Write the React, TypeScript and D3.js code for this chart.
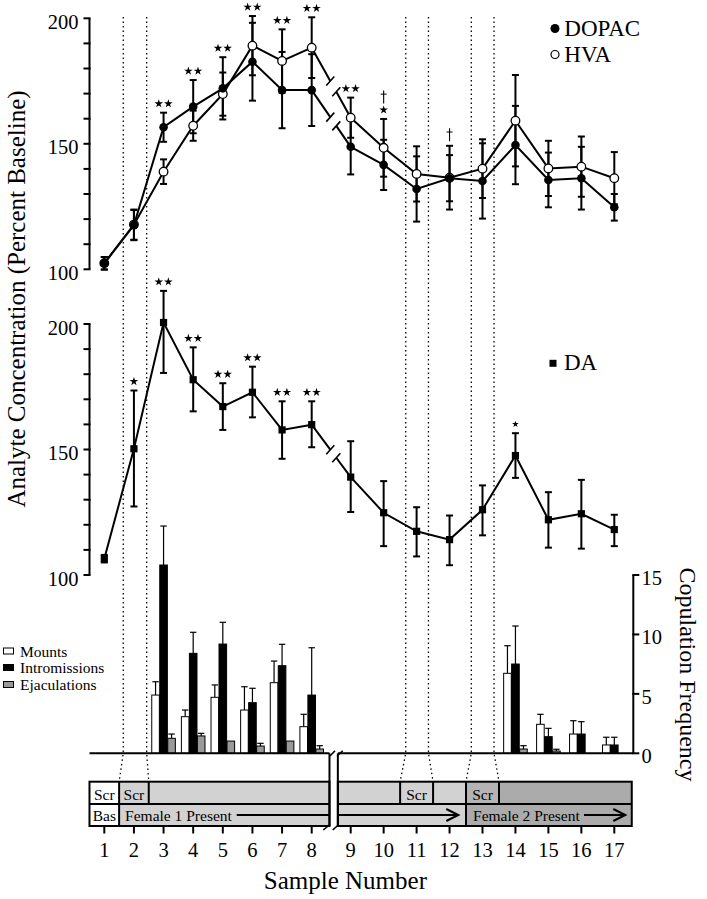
import React from "react";
import * as d3 from "d3";

// ---------- data ----------
const samples = d3.range(1, 18);
const dopac = [102.4, 117.6, 156.6, 164.8, 172.1, 182.7, 171.4, 171.4, 148.8, 141.6, 132.0, 136.3, 135.2, 149.5, 135.6, 136.3, 124.7];
const dopacErr = [2.5, 6.0, 5.8, 10.6, 12.4, 15.5, 15.2, 14.3, 11.0, 10.0, 13.0, 9.2, 15.0, 15.6, 10.9, 12.5, 5.3];
const hva = [102.4, 117.8, 138.9, 157.2, 169.8, 189.1, 183.0, 188.3, 160.4, 148.4, 138.0, 136.5, 140.1, 159.2, 140.2, 140.9, 136.3];
const hvaErr = [2.5, 6.0, 4.9, 6.0, 8.6, 11.8, 12.6, 12.1, 8.0, 11.5, 11.0, 12.7, 11.7, 18.2, 11.0, 12.0, 10.4];
const da = [106.5, 150.3, 200.6, 177.8, 167.1, 172.8, 157.8, 159.9, 139.0, 124.8, 117.4, 114.1, 126.0, 147.6, 122.0, 124.4, 118.1];
const daErrHi = [1.5, 23.2, 12.6, 12.9, 9.3, 10.2, 11.4, 9.3, 14.3, 12.6, 9.6, 9.6, 9.7, 8.9, 11.0, 13.5, 5.9];
const daErrLo = [1.5, 23.0, 20.1, 12.6, 9.3, 10.0, 11.5, 9.0, 13.9, 13.3, 10.0, 10.2, 10.2, 8.9, 11.1, 13.9, 6.6];

const mounts = [0, 0, 4.9, 3.08, 4.71, 3.64, 5.94, 2.24, 0, 0, 0, 0, 0, 6.73, 2.44, 1.62, 0.7];
const mountsErr = [0, 0, 1.12, 0.56, 1.04, 1.96, 1.82, 1.04, 0, 0, 0, 0, 0, 2.32, 0.84, 1.12, 0.65];
const intromissions = [0, 0, 15.84, 8.41, 9.19, 4.26, 7.37, 4.9, 0, 0, 0, 0, 0, 7.51, 1.4, 1.62, 0.7];
const intromissionsErr = [0, 0, 3.28, 1.77, 1.83, 1.21, 1.8, 3.98, 0, 0, 0, 0, 0, 3.2, 0.7, 1.04, 0.65];
const ejaculations = [0, 0, 1.26, 1.46, 1.03, 0.61, 1.03, 0.36, 0, 0, 0, 0, 0, 0.36, 0.19, 0, 0];
const ejaculationsErr = [0, 0, 0.36, 0.22, 0, 0.23, 0, 0.28, 0, 0, 0, 0, 0, 0.28, 0.15, 0, 0];

const topStars = [0, 0, 2, 2, 2, 2, 2, 2, 2, 1, 0, 0, 0, 0, 0, 0, 0];
const topDaggers = [0, 0, 0, 0, 0, 0, 0, 0, 0, 1, 0, 1, 0, 0, 0, 0, 0];
const daStars = [0, 1, 2, 2, 2, 2, 2, 2, 0, 0, 0, 0, 0, 1, 0, 0, 0];

const concTicks = d3.range(100, 201, 10);
const concLabels = [100, 150, 200];
const freqTicks = [0, 5, 10, 15];

// screening intervals (sample units): dotted markers and timeline cells
const screenStart = [1.64, 10.67, 12.66];
const screenEnd = [2.43, 11.36, 13.35];
const cellStart = [1.5, 10.5, 12.5];
const cellEnd = [2.5, 11.5, 13.5];
const scrCells = [1, 2, 11, 13];

// ---------- layout ----------
const W = 707;
const H = 899;
const SERIF = '"Liberation Serif", "Times New Roman", "DejaVu Serif", serif';
const BREAK = 8.6;
const xLeft = d3.scaleLinear().domain([1, 8]).range([104.3, 311.7]);
const xRight = d3.scaleLinear().domain([9, 17]).range([350.7, 614.3]);
const x = (s: number) => (s <= BREAK ? xLeft(s) : xRight(s));
const xBreakL = xLeft(BREAK);
const xBreakR = xRight(8.61);
const xEnd = xRight(17.53);
const xStart = xLeft(0.5);

const yTop = d3.scaleLinear().domain([100, 200]).range([269.3, 18.3]);
const yMid = d3.scaleLinear().domain([100, 200]).range([575, 324]);
const yBar = d3.scaleLinear().domain([0, 15]).range([753.3, 575]);

const AXIS_X = 89.5;
const RAXIS_X = 633.3;
const BOX_T = 781.7;
const BOX_M = 804;
const BOX_B = 826;

const lineGen = d3.line<[number, number]>().x((d) => d[0]).y((d) => d[1]);
const starPath = (size: number) => d3.symbol().type(d3.symbolStar).size(size)() as string;

function BrokenLine({ pts }: { pts: [number, number][] }) {
  const left = pts.slice(0, 8);
  const right = pts.slice(8);
  const p0 = pts[7];
  const p1 = pts[8];
  const f = (xx: number) => p0[1] + ((xx - p0[0]) / (p1[0] - p0[0])) * (p1[1] - p0[1]);
  const ga = 330.3;
  const gb = 336.3;
  const a: [number, number] = [ga, f(ga)];
  const b: [number, number] = [gb, f(gb)];
  return (
    <g fill="none" stroke="#000" strokeWidth={2}>
      <path d={lineGen(left) as string} />
      <path d={lineGen(right) as string} />
      <path d={lineGen([p0, a]) as string} />
      <path d={lineGen([b, p1]) as string} />
      {[a, b].map((p, i) => (
        <line key={i} x1={p[0] - 4} y1={p[1] + 4.5} x2={p[0] + 4} y2={p[1] - 4.5} strokeWidth={1.6} />
      ))}
    </g>
  );
}

function ErrBar({ cx, y1, y2, cap = 7, sw = 2 }: { cx: number; y1: number; y2: number; cap?: number; sw?: number }) {
  return (
    <g stroke="#000" strokeWidth={sw}>
      <line x1={cx} x2={cx} y1={y1} y2={y2} />
      <line x1={cx - cap / 2} x2={cx + cap / 2} y1={y1} y2={y1} />
      <line x1={cx - cap / 2} x2={cx + cap / 2} y1={y2} y2={y2} />
    </g>
  );
}

function Stars({ cx, cy, n, size }: { cx: number; cy: number; n: number; size: number }) {
  const d = starPath(size);
  const offs = n === 2 ? [-4.8, 4.8] : n === 1 ? [0] : [];
  return (
    <g>
      {offs.map((o, i) => (
        <path key={i} d={d} transform={`translate(${cx + o},${cy})`} fill="#000" />
      ))}
    </g>
  );
}

function Dagger({ cx, cy }: { cx: number; cy: number }) {
  // cy = vertical centre of the dagger glyph
  return (
    <g stroke="#000" fill="none">
      <line x1={cx} x2={cx} y1={cy - 6.5} y2={cy + 6.5} strokeWidth={1.1} />
      <line x1={cx - 3} x2={cx + 3} y1={cy - 2.8} y2={cy - 2.8} strokeWidth={1} />
    </g>
  );
}

function LeftAxis({ y }: { y: d3.ScaleLinear<number, number> }) {
  return (
    <g>
      <line x1={AXIS_X} x2={AXIS_X} y1={y(100)} y2={y(200)} stroke="#000" strokeWidth={2} />
      {concTicks.map((t) => (
        <line key={t} x1={AXIS_X - 6} x2={AXIS_X + 1} y1={y(t)} y2={y(t)} stroke="#000" strokeWidth={2} />
      ))}
      {concLabels.map((t) => (
        <text key={t} x={78.5} y={y(t) + 10.5} textAnchor="end" fontSize={20.5} fill="#000">
          {t}
        </text>
      ))}
    </g>
  );
}

export default function App() {
  const dopacPts = samples.map((s, i) => [x(s), yTop(dopac[i])] as [number, number]);
  const hvaPts = samples.map((s, i) => [x(s), yTop(hva[i])] as [number, number]);
  const daPts = samples.map((s, i) => [x(s), yMid(da[i])] as [number, number]);

  const barW = 7.6;
  const barSeries = [
    { vals: mounts, err: mountsErr, fill: "#fff", off: -8 },
    { vals: intromissions, err: intromissionsErr, fill: "#000", off: 0 },
    { vals: ejaculations, err: ejaculationsErr, fill: "#999", off: 8 },
  ];

  const arrowHead = (tx: number, ty: number) =>
    `M${tx - 12},${ty - 6}L${tx},${ty}L${tx - 12},${ty + 6}`;

  return (
    <svg
      width={W}
      height={H}
      style={{ position: "absolute", left: 0, top: 0, display: "block", background: "#fff", fontFamily: SERIF }}
    >
      <rect width={W} height={H} fill="#fff" />

      {/* dotted screening markers */}
      <g stroke="#000" strokeWidth={1.3} strokeDasharray="1.5,3" fill="none">
        {screenStart.map((s, i) => (
          <g key={"s" + i}>
            <path d={`M${x(s)},17L${x(s)},753.3L${x(cellStart[i])},${BOX_T}`} />
            <path d={`M${x(screenEnd[i])},17L${x(screenEnd[i])},753.3L${x(cellEnd[i])},${BOX_T}`} />
          </g>
        ))}
      </g>

      {/* ---------- top panel: DOPAC / HVA ---------- */}
      <LeftAxis y={yTop} />
      <BrokenLine pts={hvaPts} />
      <BrokenLine pts={dopacPts} />
      {samples.map((s, i) => (
        <g key={"te" + i}>
          <ErrBar cx={x(s)} y1={yTop(hva[i] + hvaErr[i])} y2={yTop(hva[i] - hvaErr[i])} />
          <ErrBar cx={x(s)} y1={yTop(dopac[i] + dopacErr[i])} y2={yTop(dopac[i] - dopacErr[i])} />
        </g>
      ))}
      {hvaPts.map((p, i) => (
        <circle key={"h" + i} cx={p[0]} cy={p[1]} r={4.3} fill="#fff" stroke="#000" strokeWidth={1.3} />
      ))}
      {dopacPts.map((p, i) => (
        <circle key={"d" + i} cx={p[0]} cy={p[1]} r={4.3} fill="#000" />
      ))}
      {samples.map((s, i) => {
        const topY = Math.min(yTop(dopac[i] + dopacErr[i]), yTop(hva[i] + hvaErr[i]));
        const starY = topY - 9;
        return (
          <g key={"ts" + i}>
            {topStars[i] > 0 && <Stars cx={x(s)} cy={starY} n={topStars[i]} size={23} />}
            {topDaggers[i] > 0 && <Dagger cx={x(s)} cy={topStars[i] > 0 ? starY - 13 : topY - 11} />}
          </g>
        );
      })}
      {/* legend top */}
      <circle cx={555} cy={28.5} r={4.5} fill="#000" />
      <text x={564.3} y={36} fontSize={23} fill="#000">DOPAC</text>
      <circle cx={555} cy={54.5} r={4} fill="#fff" stroke="#000" strokeWidth={1.2} />
      <text x={564.3} y={61.8} fontSize={23} fill="#000">HVA</text>

      {/* ---------- middle panel: DA ---------- */}
      <LeftAxis y={yMid} />
      <BrokenLine pts={daPts} />
      {samples.map((s, i) => (
        <ErrBar key={"de" + i} cx={x(s)} y1={yMid(da[i] + daErrHi[i])} y2={yMid(da[i] - daErrLo[i])} />
      ))}
      {daPts.map((p, i) => (
        <rect key={"q" + i} x={p[0] - 3.6} y={p[1] - 3.6} width={7.2} height={7.2} fill="#000" />
      ))}
      {samples.map((s, i) =>
        daStars[i] > 0 ? (
          <Stars
            key={"ds" + i}
            cx={x(s)}
            cy={yMid(da[i] + daErrHi[i]) - 9}
            n={daStars[i]}
            size={i === 13 ? 14 : 23}
          />
        ) : null
      )}
      <rect x={549.5} y={359.8} width={7} height={7} fill="#000" />
      <text x={564} y={370.3} fontSize={23} fill="#000">DA</text>

      {/* y label */}
      <text transform="translate(25,299) rotate(-90)" textAnchor="middle" fontSize={25} fill="#000">
        Analyte Concentration (Percent Baseline)
      </text>

      {/* ---------- bar panel ---------- */}
      {samples.map((s, i) =>
        barSeries.map((b, j) =>
          b.vals[i] > 0 ? (
            <g key={`b${i}-${j}`}>
              {b.err[i] > 0 && (
                <g stroke="#000" strokeWidth={1.2}>
                  <line x1={x(s) + b.off} x2={x(s) + b.off} y1={yBar(b.vals[i])} y2={yBar(b.vals[i] + b.err[i])} />
                  <line
                    x1={x(s) + b.off - 3.2}
                    x2={x(s) + b.off + 3.2}
                    y1={yBar(b.vals[i] + b.err[i])}
                    y2={yBar(b.vals[i] + b.err[i])}
                  />
                </g>
              )}
              <rect
                x={x(s) + b.off - barW / 2}
                y={yBar(b.vals[i])}
                width={barW}
                height={yBar(0) - yBar(b.vals[i])}
                fill={b.fill}
                stroke="#000"
                strokeWidth={1}
              />
            </g>
          ) : null
        )
      )}
      {/* baseline with break */}
      <g stroke="#000" strokeWidth={2} fill="none">
        <line x1={AXIS_X} x2={xBreakL} y1={yBar(0)} y2={yBar(0)} />
        <line x1={xBreakR} x2={RAXIS_X} y1={yBar(0)} y2={yBar(0)} />
        <line x1={RAXIS_X} x2={RAXIS_X} y1={yBar(0)} y2={yBar(15)} />
        {freqTicks.map((t) => (
          <line key={t} x1={RAXIS_X - 1} x2={RAXIS_X + 6} y1={yBar(t)} y2={yBar(t)} />
        ))}
      </g>
      {freqTicks.map((t) => (
        <text key={t} x={641.5} y={yBar(t) + 10} fontSize={20.5} fill="#000">
          {t}
        </text>
      ))}
      <text transform="translate(680,674.5) rotate(90)" textAnchor="middle" fontSize={24} fill="#000">
        Copulation Frequency
      </text>

      {/* bar legend */}
      {[
        { label: "Mounts", fill: "#fff", y: 656.5 },
        { label: "Intromissions", fill: "#000", y: 673 },
        { label: "Ejaculations", fill: "#999", y: 690 },
      ].map((l) => (
        <g key={l.label}>
          <rect x={3.5} y={l.y - 8.5} width={10} height={6} fill={l.fill} stroke="#000" strokeWidth={1} />
          <text x={20} y={l.y} fontSize={15.5} fill="#000">
            {l.label}
          </text>
        </g>
      ))}

      {/* ---------- timeline box ---------- */}
      <rect x={xStart} y={BOX_T} width={x(1.5) - xStart} height={BOX_B - BOX_T} fill="#fff" />
      <rect x={x(1.5)} y={BOX_T} width={xBreakL - x(1.5)} height={BOX_B - BOX_T} fill="#d2d2d2" />
      <rect x={xBreakR} y={BOX_T} width={x(12.5) - xBreakR} height={BOX_B - BOX_T} fill="#d2d2d2" />
      <rect x={x(12.5)} y={BOX_T} width={xEnd - x(12.5)} height={BOX_B - BOX_T} fill="#ababab" />
      <rect x={x(12.5)} y={BOX_T} width={x(13.5) - x(12.5)} height={BOX_M - BOX_T} fill="#b4b4b4" />
      <g stroke="#000" strokeWidth={2} fill="none">
        <rect x={xStart} y={BOX_T} width={xBreakL - xStart} height={BOX_B - BOX_T} />
        <rect x={xBreakR} y={BOX_T} width={xEnd - xBreakR} height={BOX_B - BOX_T} />
        <line x1={xStart} x2={xBreakL} y1={BOX_M} y2={BOX_M} />
        <line x1={xBreakR} x2={xEnd} y1={BOX_M} y2={BOX_M} />
        {[1.5, 2.5, 10.5, 11.5, 12.5, 13.5].map((c) => (
          <line key={c} x1={x(c)} x2={x(c)} y1={BOX_T} y2={BOX_M} />
        ))}
        {[1.5, 12.5].map((c) => (
          <line key={"b" + c} x1={x(c)} x2={x(c)} y1={BOX_M} y2={BOX_B} />
        ))}
        <line x1={xBreakL} x2={xBreakL} y1={yBar(0)} y2={BOX_B} />
        <line x1={xBreakR} x2={xBreakR} y1={yBar(0)} y2={BOX_B} />
        <line x1={330} y1={756} x2={335} y2={750.7} strokeWidth={1.6} />
        <line x1={337.3} y1={756} x2={342.7} y2={750.7} strokeWidth={1.6} />
        <line x1={323.3} y1={830} x2={329.3} y2={825} strokeWidth={1.6} />
        <line x1={332.7} y1={830} x2={338.3} y2={825} strokeWidth={1.6} />
        <line x1={236.7} x2={xBreakL} y1={815} y2={815} />
        <line x1={xBreakR} x2={458} y1={815} y2={815} />
        <path d={arrowHead(458.3, 815)} />
        <line x1={584} x2={625} y1={815} y2={815} />
        <path d={arrowHead(625.3, 815)} />
      </g>
      {scrCells.map((s) => (
        <text key={"scr" + s} x={x(s)} y={799.5} textAnchor="middle" fontSize={15.5} fill="#000">
          Scr
        </text>
      ))}
      <text x={x(1)} y={821} textAnchor="middle" fontSize={15.5} fill="#000">Bas</text>
      <text x={x(1.5) + 6} y={821} fontSize={15.5} fill="#000">Female 1 Present</text>
      <text x={x(12.5) + 7} y={821} fontSize={15.5} fill="#000">Female 2 Present</text>

      {/* x ticks */}
      {samples.map((s) => (
        <g key={"xt" + s}>
          <line x1={x(s)} x2={x(s)} y1={BOX_B} y2={833.5} stroke="#000" strokeWidth={2} />
          <text x={x(s)} y={856.7} textAnchor="middle" fontSize={20.5} fill="#000">
            {s}
          </text>
        </g>
      ))}
      <text x={345.4} y={889} textAnchor="middle" fontSize={25} fill="#000">
        Sample Number
      </text>
    </svg>
  );
}
